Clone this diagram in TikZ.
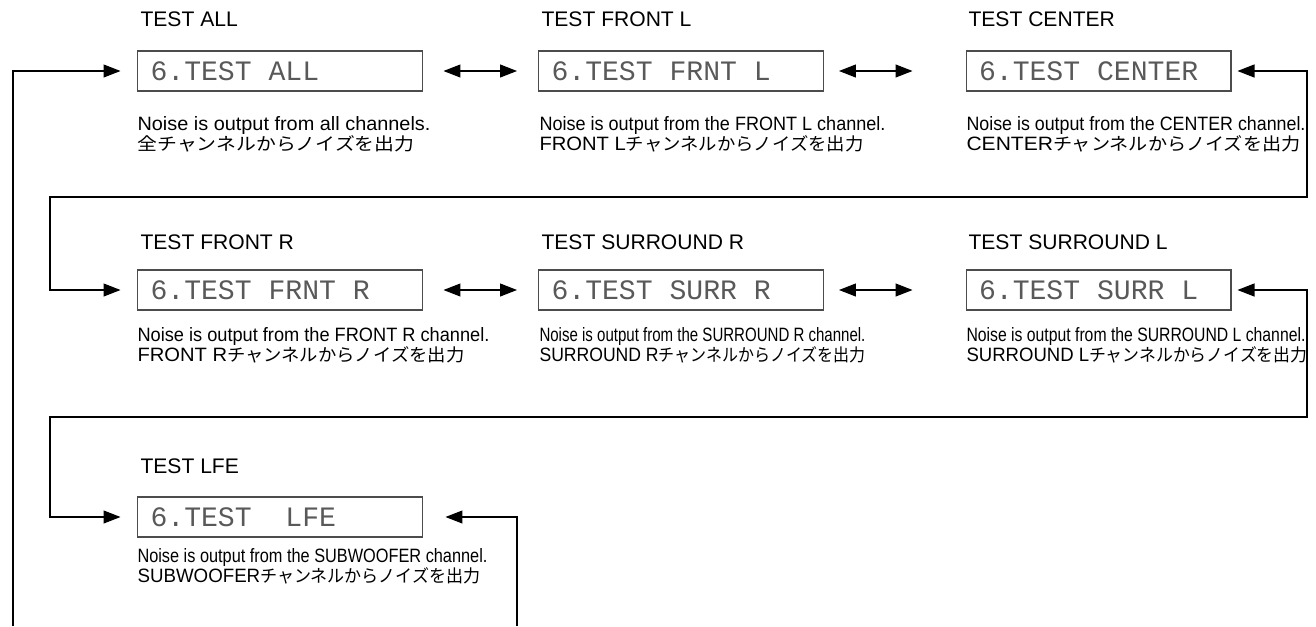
\documentclass[tikz,border=0pt]{standalone}
\usepackage{graphicx}
\usepackage{fontspec}
\setmainfont{Liberation Sans}
\newfontfamily\jpfont{Noto Sans CJK JP}
\newfontfamily\dispfont{Liberation Mono}
\usetikzlibrary{arrows.meta}
% squeeze a line of text to a given width, keeping its height
\newcommand\fitw[2]{\resizebox{#1}{\height}{#2}}
\newcommand\jtext[1]{{\jpfont\fontsize{10}{11}\selectfont #1}}
% one empty cell of the display
\newcommand\dsp{\hspace*{0.6em}}
\lineskiplimit=-\maxdimen

\begin{document}
\begin{tikzpicture}[x=0.02cm, y=-0.02cm, >={Triangle[length=3.4mm, width=2.6mm]}, line width=0.6pt,
  disp/.style={draw=black!70, minimum height=0.8cm, inner xsep=0.26cm, inner ysep=0pt, text width=#1, align=left, text=black!65, font=\dispfont\fontsize{16}{16}\selectfont},
  disp/.default=5.18cm,
  lbl/.style={anchor=base west, inner sep=0pt, font=\fontsize{12}{14}\selectfont},
  desc/.style={anchor=north west, inner sep=0pt, align=left, font=\fontsize{11}{11.3}\selectfont}]
  \useasboundingbox (0,0) rectangle (1316,626);

  % row 1
  \node[lbl] (allT) at (140,26.7) {TEST ALL};
  \node[disp] (all) at (280,71) {6.TEST\dsp ALL};
  \node[desc] (allN) at (137,115.7) {\fitw{5.86cm}{Noise is output from all channels.}\\\fitw{5.54cm}{\jtext{全チャンネルからノイズを出力}}};
  \node[lbl] (frontlT) at (541,26.7) {TEST FRONT L};
  \node[disp] (frontl) at (681,71) {6.TEST\dsp FRNT\dsp L};
  \node[desc] (frontlN) at (539,115.7) {\fitw{6.92cm}{Noise is output from the FRONT L channel.}\\\fitw{6.48cm}{FRONT L\jtext{チャンネルからノイズを出力}}};
  \node[lbl] (centerT) at (968,26.7) {TEST CENTER};
  \node[disp=4.78cm] (center) at (1098.5,71) {6.TEST\dsp CENTER};
  \node[desc] (centerN) at (966,115.7) {\fitw{6.78cm}{Noise is output from the CENTER channel.}\\\fitw{6.68cm}{CENTER\jtext{チャンネルからノイズを出力}}};

  % row 2
  \node[lbl] (frontrT) at (140,249) {TEST FRONT R};
  \node[disp] (frontr) at (280,290) {6.TEST\dsp FRNT\dsp R};
  \node[desc] (frontrN) at (137,327) {\fitw{7.04cm}{Noise is output from the FRONT R channel.}\\\fitw{6.54cm}{FRONT R\jtext{チャンネルからノイズを出力}}};
  \node[lbl] (surrrT) at (541,249) {TEST SURROUND R};
  \node[disp] (surrr) at (681,290) {6.TEST\dsp SURR\dsp R};
  \node[desc] (surrrN) at (539,327) {\fitw{6.52cm}{Noise is output from the SURROUND R channel.}\\\fitw{6.52cm}{SURROUND R\jtext{チャンネルからノイズを出力}}};
  \node[lbl] (surrlT) at (968,249) {TEST SURROUND L};
  \node[disp=4.78cm] (surrl) at (1098.5,290) {6.TEST\dsp SURR\dsp L};
  \node[desc] (surrlN) at (966,327) {\fitw{6.78cm}{Noise is output from the SURROUND L channel.}\\\fitw{6.82cm}{SURROUND L\jtext{チャンネルからノイズを出力}}};

  % row 3
  \node[lbl] (lfeT) at (140,473) {TEST LFE};
  \node[disp] (lfe) at (280,517) {6.TEST\dsp\dsp LFE};
  \node[desc] (lfeN) at (137,548) {\fitw{7.0cm}{Noise is output from the SUBWOOFER channel.}\\\fitw{6.86cm}{SUBWOOFER\jtext{チャンネルからノイズを出力}}};

  % turning points of the loops
  \coordinate (loopin) at (13,626);
  \coordinate (loopout) at (517,626);
  \coordinate (turnA) at (1307,197);
  \coordinate (backA) at (50,197);
  \coordinate (turnB) at (1307,417);
  \coordinate (backB) at (50,417);

  \draw[->, shorten >=0.33cm] (loopin) |- (all.west);
  \draw[<->, shorten <=0.41cm, shorten >=0.42cm] (all) -- (frontl);
  \draw[<->, shorten <=0.3cm, shorten >=1.06cm] (frontl) -- (center);
  \draw[<->, shorten <=0.12cm, shorten >=0.33cm] (center.east) -| (turnA) -- (backA) |- (frontr.west);
  \draw[<->, shorten <=0.41cm, shorten >=0.42cm] (frontr) -- (surrr);
  \draw[<->, shorten <=0.3cm, shorten >=1.06cm] (surrr) -- (surrl);
  \draw[<->, shorten <=0.12cm, shorten >=0.33cm] (surrl.east) -| (turnB) -- (backB) |- (lfe.west);
  \draw[->, shorten >=0.45cm] (loopout) |- (lfe.east);
\end{tikzpicture}
\end{document}
